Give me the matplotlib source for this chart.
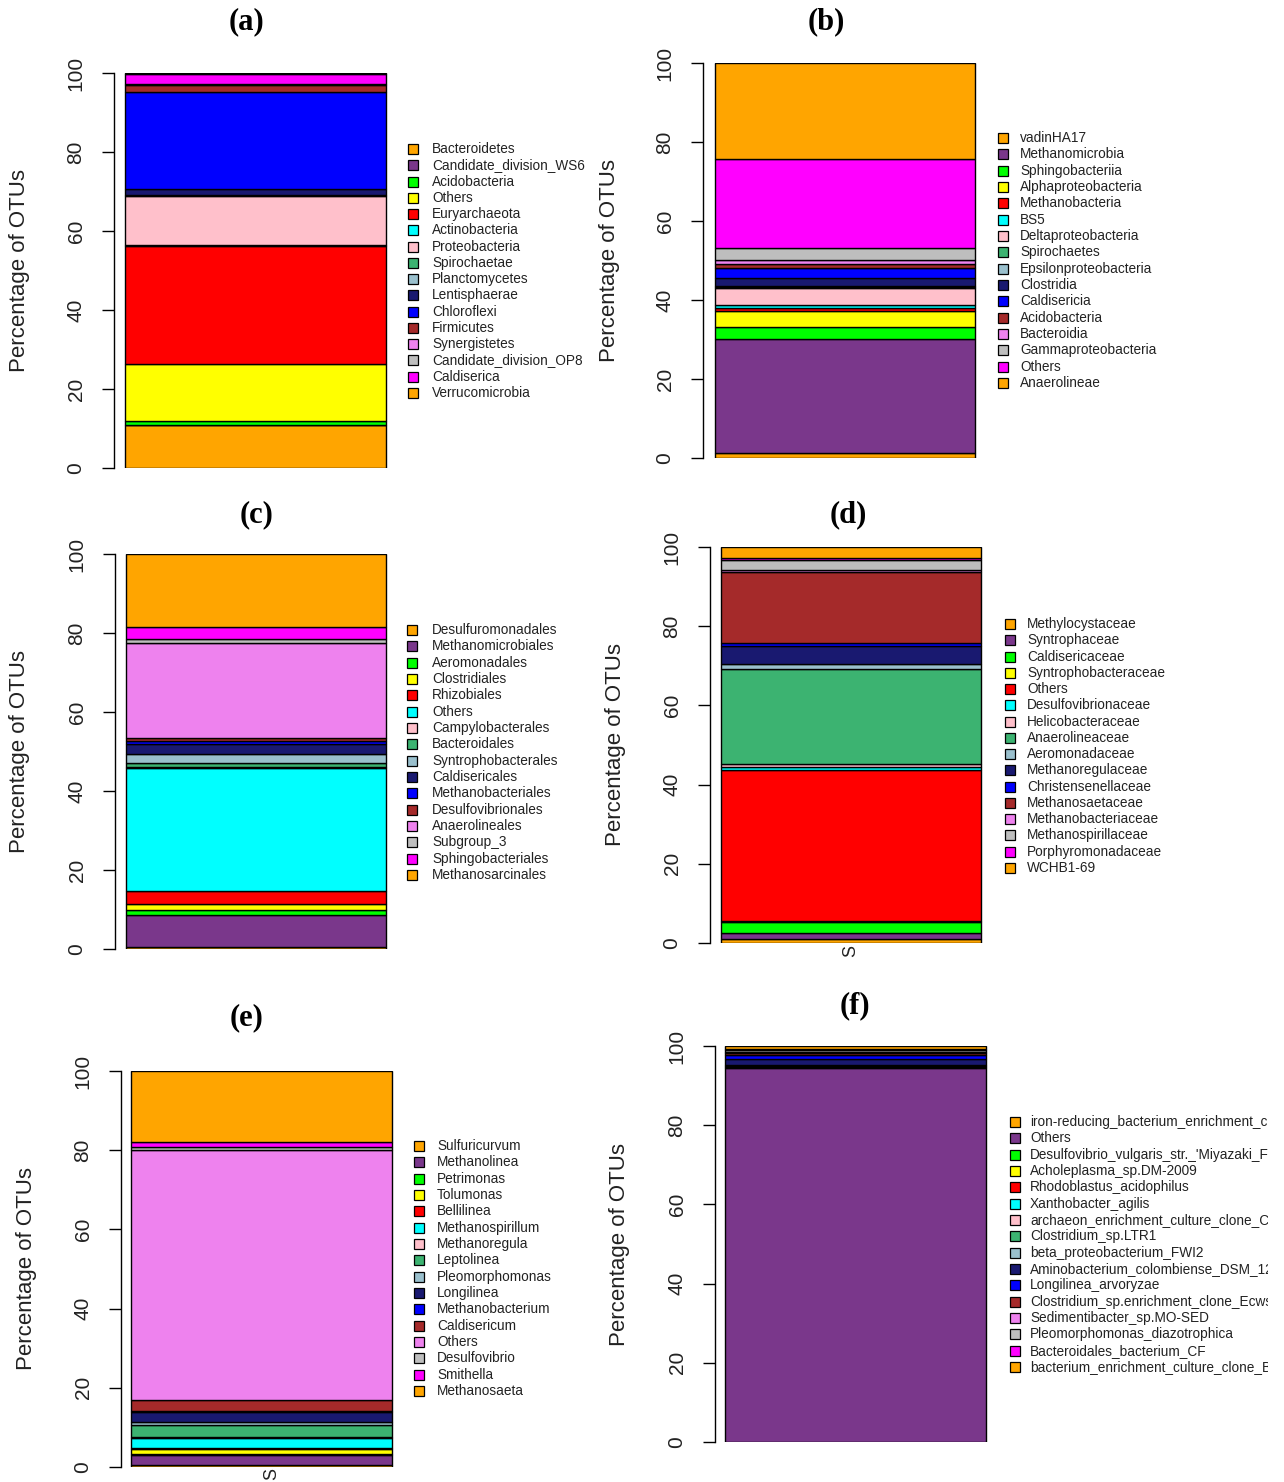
import matplotlib
matplotlib.use("Agg")
import matplotlib.pyplot as plt
from matplotlib.patches import Rectangle

plt.rcParams["font.family"] = ["Liberation Sans", "DejaVu Sans"]

W, H = 1284, 1482

# Palette shared by all six stacked bars (bottom segment first)
palette = ["#FFA500", "#7A378B", "#00FF00", "#FFFF00", "#FF0000", "#00FFFF",
           "#FFC0CB", "#3CB371", "#9AC0CD", "#191970", "#0000FF", "#A52A2A",
           "#EE82EE", "#BEBEBE", "#FF00FF", "#FFA500"]

# (a) phylum
phylum_labels = ["Bacteroidetes", "Candidate_division_WS6", "Acidobacteria", "Others",
                 "Euryarchaeota", "Actinobacteria", "Proteobacteria", "Spirochaetae",
                 "Planctomycetes", "Lentisphaerae", "Chloroflexi", "Firmicutes",
                 "Synergistetes", "Candidate_division_OP8", "Caldiserica", "Verrucomicrobia"]
phylum_values = [10.8, 0.2, 1.0, 14.4, 29.7, 0.3, 12.5, 0.1,
                 0.2, 1.5, 24.6, 1.6, 0.2, 0.2, 2.5, 0.2]

# (b) class
class_labels = ["vadinHA17", "Methanomicrobia", "Sphingobacteriia", "Alphaproteobacteria",
                "Methanobacteria", "BS5", "Deltaproteobacteria", "Spirochaetes",
                "Epsilonproteobacteria", "Clostridia", "Caldisericia", "Acidobacteria",
                "Bacteroidia", "Gammaproteobacteria", "Others", "Anaerolineae"]
class_values = [1.3, 28.8, 3.0, 4.0, 0.8, 0.9, 4.2, 0.2,
                0.4, 1.9, 2.5, 1.0, 1.1, 3.0, 22.7, 24.2]

# (c) order
order_labels = ["Desulfuromonadales", "Methanomicrobiales", "Aeromonadales", "Clostridiales",
                "Rhizobiales", "Others", "Campylobacterales", "Bacteroidales",
                "Syntrophobacterales", "Caldisericales", "Methanobacteriales",
                "Desulfovibrionales", "Anaerolineales", "Subgroup_3", "Sphingobacteriales",
                "Methanosarcinales"]
order_values = [0.4, 8.3, 1.3, 1.5, 3.1, 31.1, 0.3, 1.1,
                2.3, 2.6, 0.7, 0.7, 24.1, 1.0, 3.0, 18.5]

# (d) family
family_labels = ["Methylocystaceae", "Syntrophaceae", "Caldisericaceae", "Syntrophobacteraceae",
                 "Others", "Desulfovibrionaceae", "Helicobacteraceae", "Anaerolineaceae",
                 "Aeromonadaceae", "Methanoregulaceae", "Christensenellaceae",
                 "Methanosaetaceae", "Methanobacteriaceae", "Methanospirillaceae",
                 "Porphyromonadaceae", "WCHB1-69"]
family_values = [1.0, 1.6, 2.7, 0.2, 38.1, 0.8, 0.7, 24.2,
                 1.1, 4.5, 0.9, 17.9, 0.6, 2.3, 0.7, 2.7]

# (e) genus
genus_labels = ["Sulfuricurvum", "Methanolinea", "Petrimonas", "Tolumonas", "Bellilinea",
                "Methanospirillum", "Methanoregula", "Leptolinea", "Pleomorphomonas",
                "Longilinea", "Methanobacterium", "Caldisericum", "Others", "Desulfovibrio",
                "Smithella", "Methanosaeta"]
genus_values = [0.5, 2.6, 0.2, 1.2, 0.2, 2.6, 0.2, 3.0,
                0.9, 2.5, 0.3, 2.6, 63.3, 0.7, 1.2, 18.0]

# (f) species
species_labels = ["iron-reducing_bacterium_enrichment_cul", "Others",
                  "Desulfovibrio_vulgaris_str._'Miyazaki_F", "Acholeplasma_sp.DM-2009",
                  "Rhodoblastus_acidophilus", "Xanthobacter_agilis",
                  "archaeon_enrichment_culture_clone_C", "Clostridium_sp.LTR1",
                  "beta_proteobacterium_FWI2", "Aminobacterium_colombiense_DSM_12",
                  "Longilinea_arvoryzae", "Clostridium_sp.enrichment_clone_Ecws",
                  "Sedimentibacter_sp.MO-SED", "Pleomorphomonas_diazotrophica",
                  "Bacteroidales_bacterium_CF", "bacterium_enrichment_culture_clone_B"]
species_values = [0.1, 94.4, 0.1, 0.1, 0.1, 0.1, 0.1, 0.1,
                  0.1, 1.5, 1.1, 0.5, 0.2, 0.5, 0.3, 0.7]

y_ticks = [0, 20, 40, 60, 80, 100]

fig = plt.figure(figsize=(W / 100, H / 100), dpi=100)
fig.patch.set_facecolor("white")


def fx(x):
    return x / W


def fy(y):
    return 1 - y / H


def panel(title, labels, values, axis_x, bar_l, bar_r, y100, y0,
          title_xy, ylab_x, leg_box_x, leg_text_x, leg_y0, leg_y1, sample=None):
    bw = bar_r - bar_l
    ax = fig.add_axes([fx(axis_x), fy(y0), fx(bar_r + 2) - fx(axis_x), fy(y100) - fy(y0)])
    left = -0.5 - (bar_l - axis_x) / bw
    right = 0.5 + 2 / bw
    ax.set_xlim(left, right)
    ax.set_ylim(0, 100)
    bottom = 0.0
    for v, c in zip(values, palette):
        ax.bar(0, v, width=1.0, bottom=bottom, color=c, edgecolor="black",
               linewidth=1.0, align="center")
        bottom += v
    for s in ["top", "right", "bottom"]:
        ax.spines[s].set_visible(False)
    ax.spines["left"].set_bounds(0, 100)
    ax.spines["left"].set_linewidth(1.0)
    ax.set_xticks([])
    ax.set_yticks(y_ticks)
    ax.set_yticklabels([str(t) for t in y_ticks], rotation=90, va="center",
                       fontsize=15, color="#222222")
    ax.tick_params(axis="y", length=8.5, width=1.0, pad=12)
    ax.patch.set_alpha(0)

    fig.text(fx(title_xy[0]), fy(title_xy[1]), title, ha="center", va="center",
             fontsize=22, fontweight="bold", family="Liberation Serif")
    fig.text(fx(ylab_x), fy((y0 + y100) / 2), "Percentage of OTUs", rotation=90,
             ha="center", va="center", fontsize=16, color="#222222")
    n = len(labels)
    step = (leg_y1 - leg_y0) / (n - 1)
    for i, (lab, c) in enumerate(zip(labels, palette)):
        yc = leg_y0 + i * step
        fig.add_artist(Rectangle((fx(leg_box_x), fy(yc + 5)), 10 / W, 10 / H,
                                 transform=fig.transFigure, facecolor=c,
                                 edgecolor="black", linewidth=0.9))
        fig.text(fx(leg_text_x), fy(yc), lab, ha="left", va="center",
                 fontsize=9.8, color="#222222")
    if sample is not None:
        fig.text(fx(sample[0]), fy(sample[1]), "S", rotation=90, ha="center",
                 va="center", fontsize=13, color="#222222")
    return ax


panel("(a)", phylum_labels, phylum_values, 114, 125, 386, 73, 468,
      (247, 22), 20, 408, 432, 149, 393)
panel("(b)", class_labels, class_values, 703, 715, 975, 63, 458,
      (826, 22), 609, 998, 1020, 138, 383)
panel("(c)", order_labels, order_values, 115, 126, 386, 554, 949,
      (257, 515), 20, 407, 432, 630, 875)
panel("(d)", family_labels, family_values, 710, 721, 981, 547, 943,
      (848, 515), 616, 1005, 1027, 624, 868, sample=(851, 951))
panel("(e)", genus_labels, genus_values, 121, 131, 392, 1071, 1467,
      (247, 1018), 27, 414, 437, 1146, 1391, sample=(272, 1474))
panel("(f)", species_labels, species_values, 715, 725, 986, 1046, 1442,
      (855, 1006), 620, 1010, 1030, 1122, 1367)

# plain margin on the right edge that trims the long species names
fig.add_artist(Rectangle((fx(1268), 0), 16 / W, 1, transform=fig.transFigure,
                         facecolor="white", edgecolor="none", zorder=10))

fig.savefig("out.png", dpi=100, facecolor="white")
